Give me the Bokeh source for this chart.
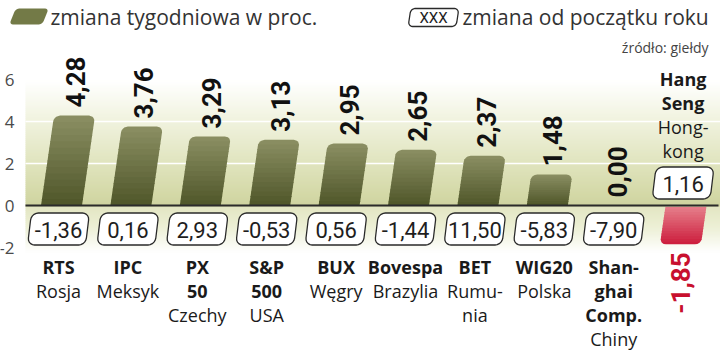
import numpy as np
from bokeh.plotting import figure
from bokeh.models import Range1d, FixedTicker, ColumnDataSource
from bokeh.core.properties import value
from bokeh.embed import file_html
from bokeh.resources import INLINE

# ---------------- data ----------------
indices = ["RTS", "IPC", "PX 50", "S&P 500", "BUX", "Bovespa", "BET", "WIG20",
           "Shanghai Comp.", "Hang Seng"]
weekly = [4.28, 3.76, 3.29, 3.13, 2.95, 2.65, 2.37, 1.48, 0.00, -1.85]
ytd = [-1.36, 0.16, 2.93, -0.53, 0.56, -1.44, 11.50, -5.83, -7.90, 1.16]
label_lines = [
    [("RTS", True), ("Rosja", False)],
    [("IPC", True), ("Meksyk", False)],
    [("PX", True), ("50", True), ("Czechy", False)],
    [("S&P", True), ("500", True), ("USA", False)],
    [("BUX", True), ("Węgry", False)],
    [("Bovespa", True), ("Brazylia", False)],
    [("BET", True), ("Rumu-", False), ("nia", False)],
    [("WIG20", True), ("Polska", False)],
    [("Shan-", True), ("ghai", True), ("Comp.", True), ("Chiny", False)],
    [("Hang", True), ("Seng", True), ("Hong-", False), ("kong", False)],
]
y_ticks = [-2, 0, 2, 4, 6]
grid_vals = [2, 4]
legend_weekly = "zmiana tygodniowa w proc."
legend_ytd = "zmiana od początku roku"
legend_box = "XXX"
source_note = "źródło: giełdy"

def fmt(v):
    return f"{v:.2f}".replace(".", ",")

# ---------------- geometry helpers (pixel <-> data) ----------------
W, H = 720, 351
X0PX, DXPX = 58.0, 69.4      # px of category 0, px per category
ZPX, DYPX = 205.0, 21.0      # px of y=0, px per unit
LEFT_PX = 25.0
NUM_FONT = "Roboto"
TXT_FONT = "Open Sans"

def xd(px):
    return (np.asarray(px, dtype=float) - X0PX) / DXPX

def yd(py):
    return (ZPX - np.asarray(py, dtype=float)) / DYPX

def cat_px(k):
    return X0PX + DXPX * k

p = figure(width=W, height=H, x_range=Range1d(float(xd(0)), float(xd(W))),
           y_range=Range1d(float(yd(H)), float(yd(0))),
           output_backend="svg", toolbar_location=None, min_border=0,
           x_axis_location=None, y_axis_location="left")
p.outline_line_color = None
p.grid.visible = False
p.background_fill_color = "white"
p.border_fill_color = "white"

ax = p.yaxis[0]
ax.fixed_location = float(xd(LEFT_PX))
ax.ticker = FixedTicker(ticks=y_ticks)
ax.axis_line_color = None
ax.major_tick_line_color = None
ax.minor_tick_line_color = None
ax.major_label_standoff = 5
ax.major_label_text_font = TXT_FONT
ax.major_label_text_font_size = "17px"
ax.major_label_text_color = "#4a4a4a"
ax.major_label_overrides = {t: str(t) for t in y_ticks}

# ---------------- background gradient ----------------
def hex2rgb(h):
    h = h.lstrip("#")
    return np.array([int(h[i:i + 2], 16) for i in (0, 2, 4)], dtype=float)

def rgb2hex(c):
    c = np.clip(np.round(c), 0, 255).astype(int)
    return "#%02x%02x%02x" % tuple(c)

stops = [(80, "#ffffff"), (118, "#f1f3e0"), (160, "#e1e5c0"), (195, "#d3d8a6"),
         (205, "#ced3a0"), (206, "#e3e6c2"), (228, "#edf0d7"), (252, "#ffffff")]
sp = np.array([s[0] for s in stops], dtype=float)
sc = np.array([hex2rgb(s[1]) for s in stops])

def grad_color(py):
    return rgb2hex([np.interp(py, sp, sc[:, i]) for i in range(3)])

band_top = np.arange(80, 252, 2.0)
bg = ColumnDataSource(dict(
    left=[float(xd(LEFT_PX))] * len(band_top),
    right=[float(xd(W))] * len(band_top),
    top=list(yd(band_top)),
    bottom=list(yd(band_top + 2.6)),
    color=[grad_color(t + 1) for t in band_top],
))
p.quad(left="left", right="right", top="top", bottom="bottom", source=bg,
       fill_color="color", line_color=None)

p.segment(x0=[float(xd(LEFT_PX))] * len(grid_vals), y0=grid_vals,
          x1=[float(xd(W))] * len(grid_vals), y1=grid_vals,
          line_color="white", line_width=1.6)

# ---------------- bars ----------------
BAR_W = 41.0
SLANT = 0.145
RAD = 6.0
NB = 14

def inset(v, Hh, rt, rb):
    ins = 0.0
    if rt > 0 and v > Hh - rt:
        d = v - (Hh - rt)
        ins = max(ins, rt - np.sqrt(max(rt * rt - d * d, 0.0)))
    if rb > 0 and v < rb:
        d = rb - v
        ins = max(ins, rb - np.sqrt(max(rb * rb - d * d, 0.0)))
    return ins

bxs, bys, bcol = [], [], []
for k, val in enumerate(weekly):
    if val == 0:
        continue
    cx0 = cat_px(k) + 3.0
    hpx = abs(val) * DYPX
    if val > 0:
        ptop, pbot = ZPX - hpx, ZPX
        rt, rb = RAD, 0.0
        ctop, cbot = hex2rgb("#8b8f63"), hex2rgb("#4f5629")
    else:
        ptop, pbot = ZPX + 1.2, ZPX + hpx
        rt, rb = 0.0, RAD
        ctop, cbot = hex2rgb("#e6808b"), hex2rgb("#cc1c3c")
    Hh = pbot - ptop
    edges = np.linspace(ptop, pbot, NB + 1)
    for i in range(NB):
        pa, pb = edges[i], min(edges[i + 1] + 0.8, pbot)
        ys = np.linspace(pa, pb, 7)
        lx, rx = [], []
        for py in ys:
            v = pbot - py
            ins = inset(v, Hh, rt, rb)
            c = cx0 + SLANT * (ZPX - py)
            lx.append(c - BAR_W / 2 + ins)
            rx.append(c + BAR_W / 2 - ins)
        px_poly = lx + rx[::-1]
        py_poly = list(ys) + list(ys[::-1])
        bxs.append(list(xd(px_poly)))
        bys.append(list(yd(py_poly)))
        f = (0.5 * (edges[i] + edges[i + 1]) - ptop) / Hh
        bcol.append(rgb2hex(ctop + (cbot - ctop) * f))

p.patches(xs=bxs, ys=bys, fill_color=bcol, line_color=None)

# zero line
p.segment(x0=[float(xd(LEFT_PX))], y0=[0], x1=[float(xd(718))], y1=[0],
          line_color="#2b2b2b", line_width=2)

# ---------------- value labels (rotated) ----------------
vx, vy, vt = [], [], []
nx, ny, nt = [], [], []
for k, val in enumerate(weekly):
    cx0 = cat_px(k) + 3.0
    py = ZPX - val * DYPX
    if val >= 0:
        vx.append(float(xd(cx0 + SLANT * (ZPX - py) + 1)))
        vy.append(float(yd(py - 8)))
        vt.append(fmt(val))
    else:
        nx.append(float(xd(cx0 + SLANT * (ZPX - py))))
        ny.append(float(yd(py + 8)))
        nt.append(fmt(val))

p.text(x=vx, y=vy, text=vt, angle=np.pi / 2, text_align="left",
       text_baseline="middle", text_font=value(NUM_FONT),
       text_font_style="bold", text_font_size="26px", text_color="#111111")
p.text(x=nx, y=ny, text=nt, angle=np.pi / 2, text_align="right",
       text_baseline="middle", text_font=value(NUM_FONT),
       text_font_style="bold", text_font_size="26px", text_color="#c8102e")

# ---------------- ytd boxes ----------------
def rounded_para(cx, cy, w, h, r, s, n=6):
    pts = []
    corners = [(w / 2 - r, h / 2 - r, 0.0), (-w / 2 + r, h / 2 - r, np.pi / 2),
               (-w / 2 + r, -h / 2 + r, np.pi), (w / 2 - r, -h / 2 + r, 1.5 * np.pi)]
    for ux, vy_, a0 in corners:
        for a in np.linspace(a0, a0 + np.pi / 2, n):
            pts.append((ux + r * np.cos(a), vy_ + r * np.sin(a)))
    xs = [cx + u + s * v for u, v in pts]
    ys = [cy - v for u, v in pts]
    return list(xd(xs)), list(yd(ys))

BOX_W, BOX_H = 58.0, 32.0
box_xs, box_ys, tx, ty, tt = [], [], [], [], []
for k, val in enumerate(ytd):
    cx = cat_px(k)
    cy = 228.5 if weekly[k] >= 0 else 182.5
    bx, by = rounded_para(cx, cy, BOX_W, BOX_H, 7.0, 0.12)
    box_xs.append(bx)
    box_ys.append(by)
    tx.append(float(xd(cx)))
    ty.append(float(yd(cy + 0.5)))
    tt.append(fmt(val))

# legend box
lbx, lby = rounded_para(433, 17, 48, 18, 4.5, 0.15)
box_xs.append(lbx)
box_ys.append(lby)

p.patches(xs=box_xs, ys=box_ys, fill_color="white", line_color="#2a2a2a",
          line_width=1.3)
p.text(x=tx, y=ty, text=tt, text_align="center", text_baseline="middle",
       text_font=value(NUM_FONT), text_font_size="22px",
       text_color="#1e1e1e")

# legend icon
ix, iy = rounded_para(28.5, 16, 33, 16, 3.5, 0.4)
p.patches(xs=[ix], ys=[iy], fill_color="#737a47", line_color=None)

# ---------------- category labels ----------------
bold_x, bold_y, bold_t, reg_x, reg_y, reg_t = [], [], [], [], [], []
for k, lines in enumerate(label_lines):
    cx = cat_px(k)
    base0 = 266.5 if weekly[k] >= 0 else 78.5
    for j, (txt, b) in enumerate(lines):
        py = base0 + 24 * j
        if b:
            bold_x.append(float(xd(cx))); bold_y.append(float(yd(py))); bold_t.append(txt)
        else:
            reg_x.append(float(xd(cx))); reg_y.append(float(yd(py))); reg_t.append(txt)

p.text(x=bold_x, y=bold_y, text=bold_t, text_align="center",
       text_baseline="alphabetic", text_font=value(TXT_FONT),
       text_font_style="bold", text_font_size="18px", text_color="#1a1a1a")
p.text(x=reg_x, y=reg_y, text=reg_t, text_align="center",
       text_baseline="alphabetic", text_font=value(TXT_FONT),
       text_font_size="18px", text_color="#1a1a1a")

# ---------------- legend texts ----------------
p.text(x=[float(xd(50)), float(xd(462))], y=[float(yd(16)), float(yd(16))],
       text=[legend_weekly, legend_ytd], text_align="left", text_baseline="middle",
       text_font=value(TXT_FONT), text_font_size="21px", text_color="#333333")
p.text(x=[float(xd(433))], y=[float(yd(17))], text=[legend_box], text_align="center",
       text_baseline="middle", text_font=value(NUM_FONT),
       text_font_size="15px", text_color="#1e1e1e")
p.text(x=[float(xd(708))], y=[float(yd(47))], text=[source_note], text_align="right",
       text_baseline="middle", text_font=value(TXT_FONT), text_font_size="14px",
       text_color="#444444")

open("out.html", "w").write(file_html(p, INLINE))
